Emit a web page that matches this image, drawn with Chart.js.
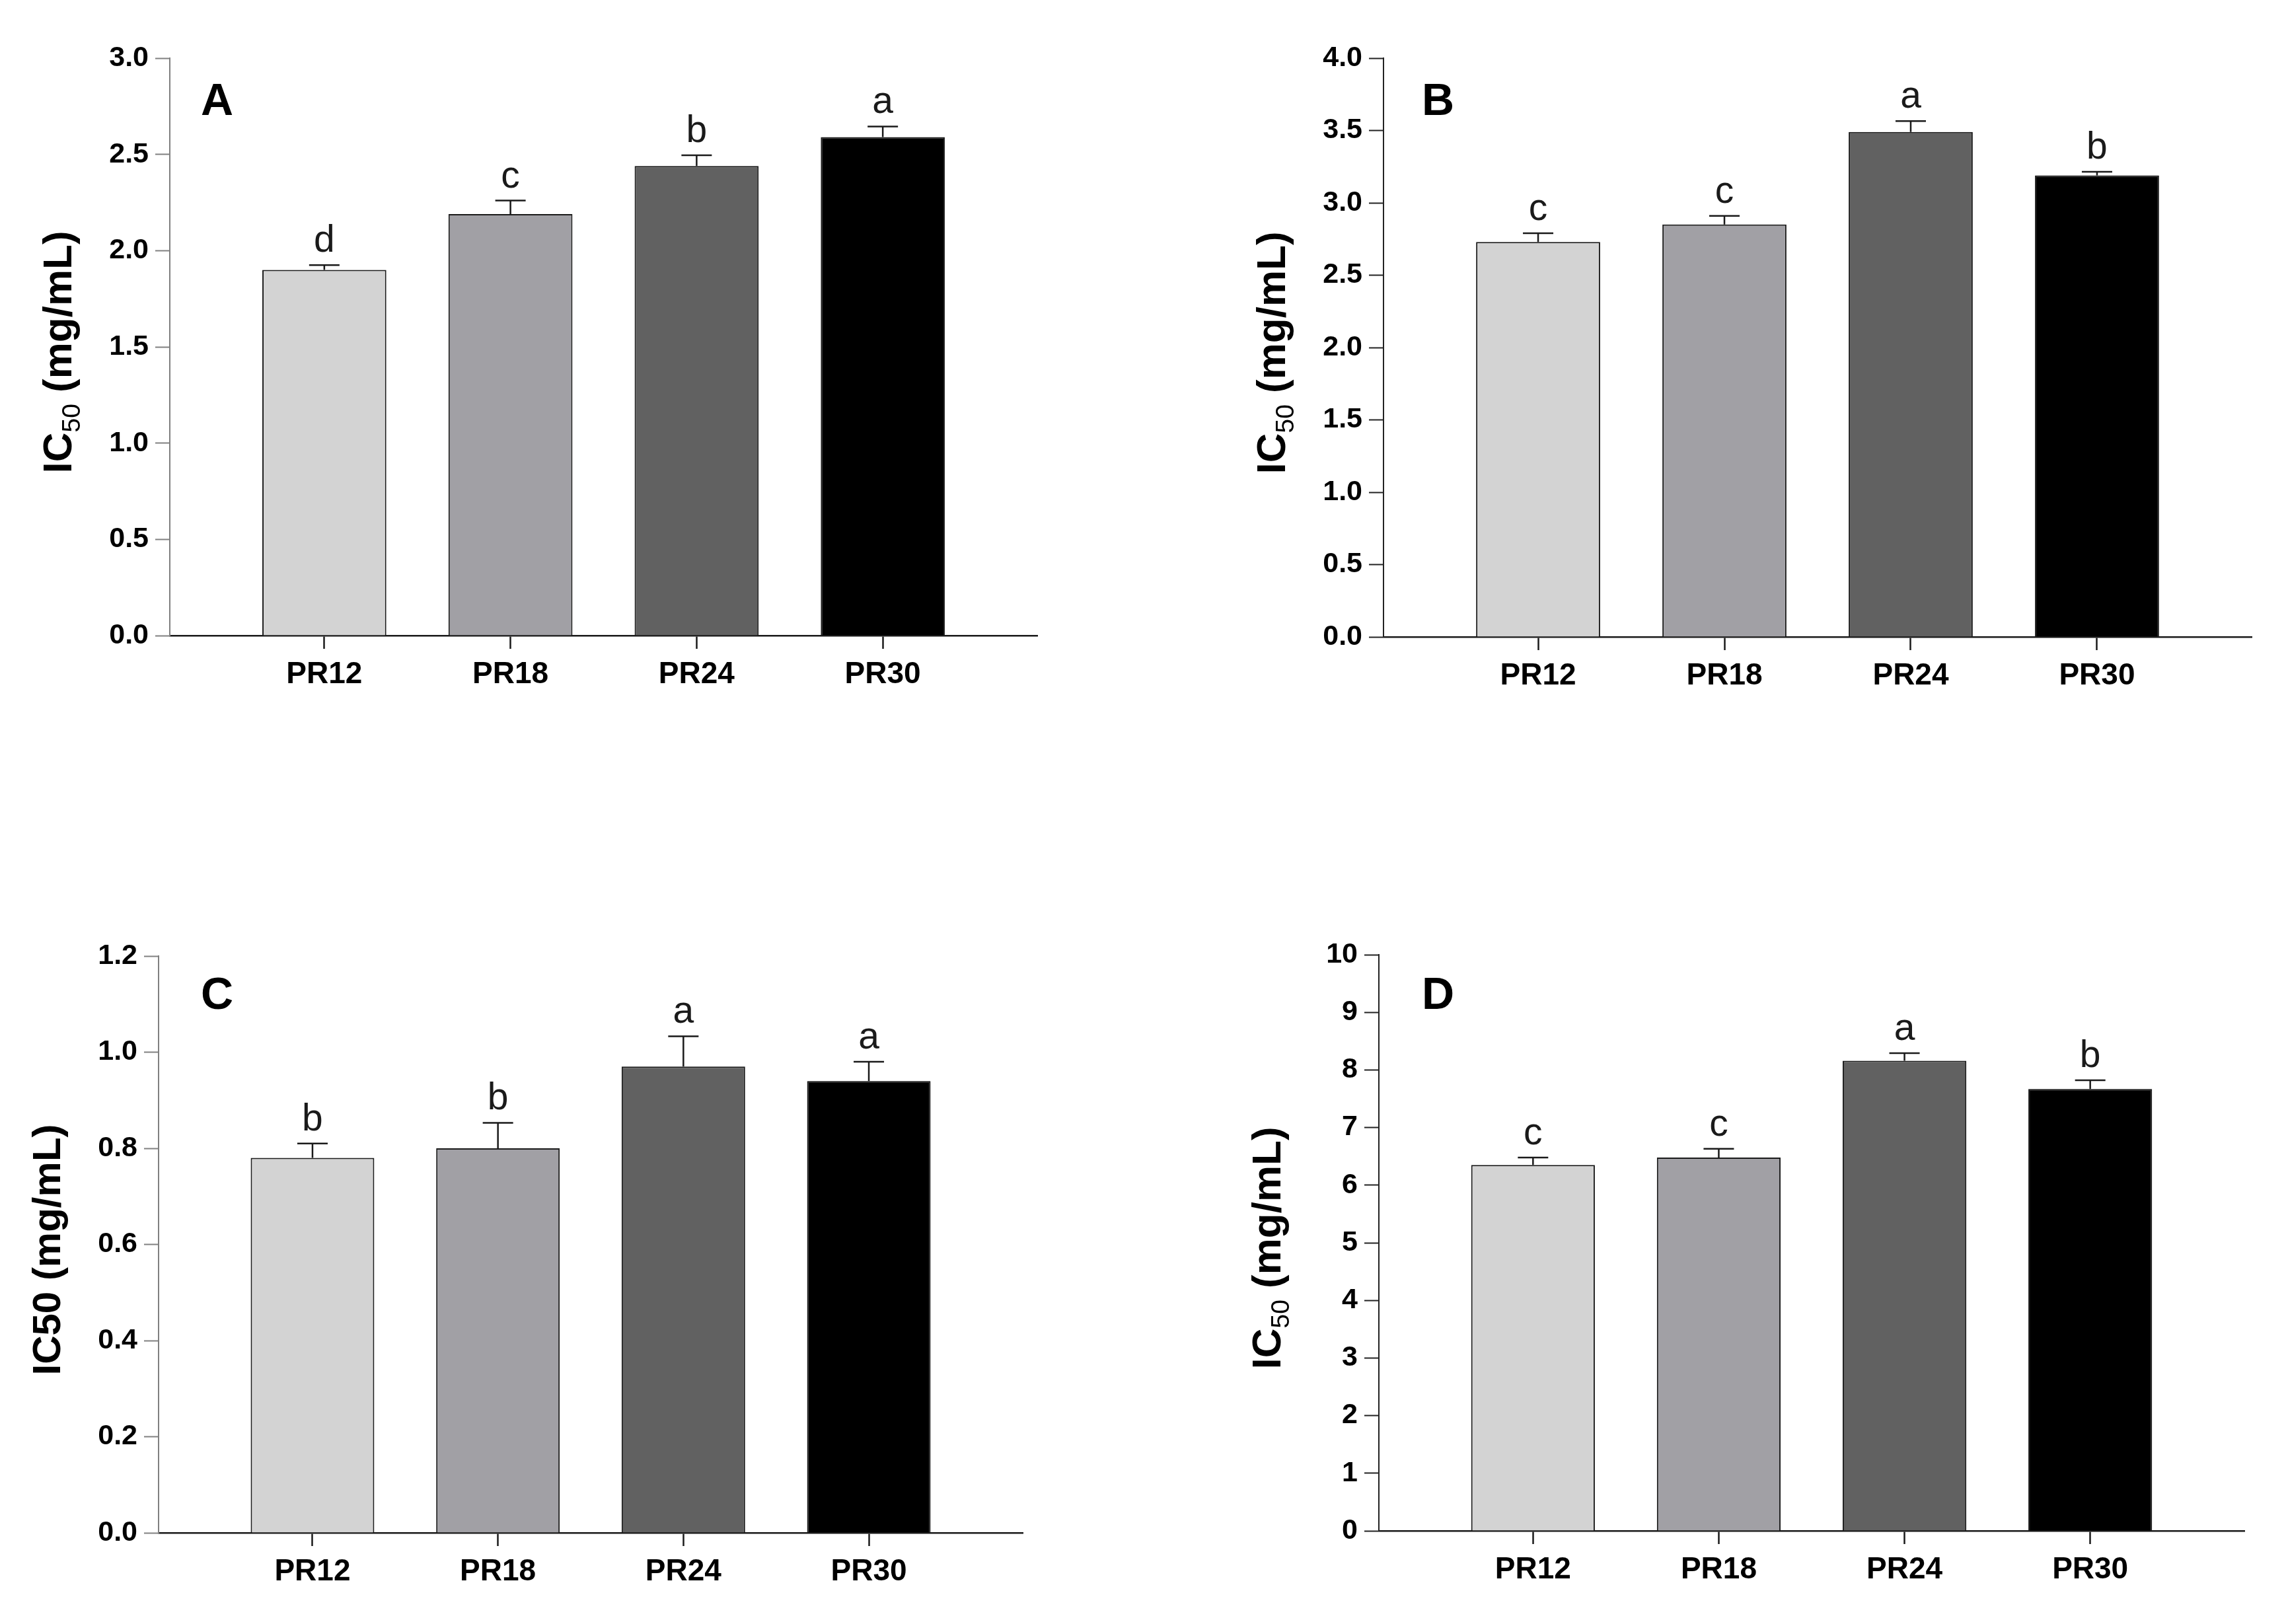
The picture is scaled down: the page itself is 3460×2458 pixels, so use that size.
<!doctype html>
<html>
	<head>
		<title>IC50 bar charts</title>
		<script src="https://cdn.jsdelivr.net/npm/chart.js@4.4.1/dist/chart.umd.min.js"></script>
		<style>
			body {
				margin: 0;
				background: #fff;
			}
			#wrapper {
				position: relative;
				width: 3460px;
				height: 2458px;
			}
			#wrapper canvas {
				position: absolute;
			}
		</style>
	</head>
	<body>
		<div id="wrapper">
			<canvas id="canvas_A" width="1730" height="1229" style="left:0;top:0"></canvas>
			<canvas id="canvas_B" width="1730" height="1229" style="left:1730px;top:0"></canvas>
			<canvas id="canvas_C" width="1730" height="1229" style="left:0;top:1229px"></canvas>
			<canvas id="canvas_D" width="1730" height="1229" style="left:1730px;top:1229px"></canvas>
		</div>

		<script>
			var groups = ['PR12', 'PR18', 'PR24', 'PR30'];
			var barColors = ['#d3d3d3', '#a1a0a5', '#616161', '#000000'];

			var valuesA = [1.90, 2.19, 2.44, 2.59];
			var errorsA = [0.025, 0.07, 0.055, 0.055];
			var lettersA = ['d', 'c', 'b', 'a'];

			var valuesB = [2.73, 2.85, 3.49, 3.19];
			var errorsB = [0.06, 0.06, 0.075, 0.025];
			var lettersB = ['c', 'c', 'a', 'b'];

			var valuesC = [0.78, 0.80, 0.97, 0.94];
			var errorsC = [0.03, 0.053, 0.063, 0.04];
			var lettersC = ['b', 'b', 'a', 'a'];

			var valuesD = [6.35, 6.48, 8.16, 7.67];
			var errorsD = [0.13, 0.15, 0.13, 0.15];
			var lettersD = ['c', 'c', 'a', 'b'];

			var FONT = '"Liberation Sans", Arial, sans-serif';

			// layout of each panel inside its canvas (chart area edges, local px)
			var panels = [
				{ id: 'A', values: valuesA, errors: errorsA, letters: lettersA, max: 3, step: 0.5, dec: 1,
				  sub: true, left: 257, top: 88, right: 1570, bottom: 962, axisColor: '#808080', tag: [47, 86] },
				{ id: 'B', values: valuesB, errors: errorsB, letters: lettersB, max: 4, step: 0.5, dec: 1,
				  sub: true, left: 364, top: 88, right: 1678, bottom: 964, axisColor: '#222', tag: [58, 86] },
				{ id: 'C', values: valuesC, errors: errorsC, letters: lettersC, max: 1.2, step: 0.2, dec: 1,
				  sub: false, left: 240, top: 218, right: 1548, bottom: 1091, axisColor: '#808080', tag: [64, 80] },
				{ id: 'D', values: valuesD, errors: errorsD, letters: lettersD, max: 10, step: 1, dec: 0,
				  sub: true, left: 357, top: 216, right: 1667, bottom: 1088, axisColor: '#222', tag: [65, 82] }
			];

			var extrasPlugin = {
				id: 'extras',
				afterDatasetsDraw: function(chart) {
					var p = chart.options.plugins.extras.panel;
					var ctx = chart.ctx;
					var y = chart.scales.y;
					var area = chart.chartArea;
					var bars = chart.getDatasetMeta(0).data;

					ctx.save();
					// error bars + significance letters
					ctx.strokeStyle = '#1a1a1a';
					ctx.lineWidth = 2.5;
					ctx.fillStyle = '#1a1a1a';
					ctx.font = '57px ' + FONT;
					ctx.textAlign = 'center';
					ctx.textBaseline = 'alphabetic';
					bars.forEach(function(bar, i) {
						var top = y.getPixelForValue(p.values[i]);
						var cap = y.getPixelForValue(p.values[i] + p.errors[i]);
						ctx.beginPath();
						ctx.moveTo(bar.x, top);
						ctx.lineTo(bar.x, cap);
						ctx.moveTo(bar.x - 23, cap);
						ctx.lineTo(bar.x + 23, cap);
						ctx.stroke();
						ctx.fillText(p.letters[i], bar.x, cap - 20);
					});

					// panel tag
					ctx.font = 'bold 68px ' + FONT;
					ctx.textAlign = 'left';
					ctx.fillStyle = '#000';
					ctx.fillText(p.id, area.left + p.tag[0], area.top + p.tag[1]);

					// y axis title, rotated
					var big = p.sub ? 'bold 62px ' + FONT : 'bold 60px ' + FONT;
					var small = '39px ' + FONT;
					var parts = p.sub
						? [['IC', big, 0], ['50', small, 13], [' (mg/mL)', big, 0]]
						: [['IC50 (mg/mL)', big, 0]];
					var total = 0;
					parts.forEach(function(pt) {
						ctx.font = pt[1];
						total += ctx.measureText(pt[0]).width;
					});
					ctx.translate(area.left - 149, (area.top + area.bottom) / 2 + 8);
					ctx.rotate(-Math.PI / 2);
					var x = -total / 2;
					parts.forEach(function(pt) {
						ctx.font = pt[1];
						ctx.fillText(pt[0], x, pt[2]);
						x += ctx.measureText(pt[0]).width;
					});
					ctx.restore();
				}
			};

			panels.forEach(function(p) {
				var canvas = document.getElementById('canvas_' + p.id);
				var W = canvas.width, H = canvas.height;
				var padBottom = 20;

				new Chart(canvas.getContext('2d'), {
					type: 'bar',
					data: {
						datasets: [{
							data: p.values.map(function(v, i) { return { x: i + 1, y: v }; }),
							backgroundColor: barColors,
							borderColor: '#1a1a1a',
							borderWidth: 2,
							categoryPercentage: 1,
							barPercentage: 0.666
						}]
					},
					options: {
						responsive: false,
						devicePixelRatio: 1,
						animation: false,
						layout: { padding: { left: 0, top: p.top, right: W - p.right, bottom: padBottom } },
						plugins: {
							legend: { display: false },
							tooltip: { enabled: false },
							extras: { panel: p }
						},
						scales: {
							x: {
								type: 'linear',
								min: 0.17,
								max: 4.83,
								offset: false,
								afterBuildTicks: function(s) {
									s.ticks = groups.map(function(g, i) { return { value: i + 1 }; });
								},
								afterFit: function(s) { s.height = H - padBottom - p.bottom; },
								ticks: {
									autoSkip: false,
									maxRotation: 0,
									padding: 12,
									color: '#000',
									font: { family: FONT, size: 46, weight: 'bold' },
									callback: function(v) { return groups[Math.round(v) - 1]; }
								},
								grid: { offset: false, drawOnChartArea: false, tickLength: 20, tickColor: '#1a1a1a', tickWidth: 2.5 },
								border: { display: true, color: '#1a1a1a', width: 2.5 }
							},
							y: {
								min: 0,
								max: p.max,
								afterFit: function(s) { s.width = p.left; },
								ticks: {
									stepSize: p.step,
									padding: 10,
									color: '#000',
									font: { family: FONT, size: 43, weight: 'bold' },
									callback: function(v) { return v.toFixed(p.dec); }
								},
								grid: { drawOnChartArea: false, tickLength: 22, tickColor: p.axisColor, tickWidth: 2 },
								border: { display: true, color: p.axisColor, width: 2 }
							}
						}
					},
					plugins: [extrasPlugin]
				});
			});
		</script>
	</body>
</html>
